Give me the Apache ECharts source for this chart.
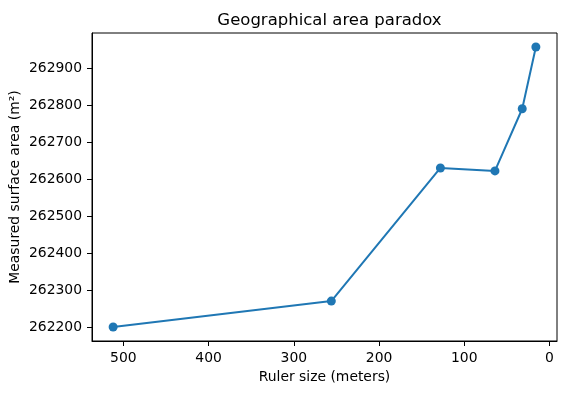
<!DOCTYPE html>
<html><head><meta charset="utf-8">
<script src="https://cdn.jsdelivr.net/npm/echarts@6/dist/echarts.min.js"></script>
<style>html,body{margin:0;padding:0;background:#fff}#c{width:567px;height:393px}</style>
</head><body><div id="c"></div>
<script>
const rulerSizes = [512, 256, 128, 64, 32, 16];
const areas = [262200, 262270, 262630, 262622, 262790, 262957];
const xTicks = [0, 100, 200, 300, 400, 500];
const yTicks = [262200, 262300, 262400, 262500, 262600, 262700, 262800, 262900];

const xMin = Math.min(...rulerSizes), xMax = Math.max(...rulerSizes);
const yMin = Math.min(...areas), yMax = Math.max(...areas);
const xPad = (xMax - xMin) * 0.05, yPad = (yMax - yMin) * 0.05;
const font = 'DejaVu Sans';
const chart = echarts.init(document.getElementById('c'), null, {renderer: 'canvas'});
chart.setOption({
  animation: false,
  title: {text: 'Geographical area paradox', left: 324.5, textAlign: 'center', top: 7,
    textStyle: {fontFamily: font, fontSize: 16.5, fontWeight: 'normal', color: '#000'}},
  grid: {left: 92, right: 10, top: 33, bottom: 52, show: true, borderColor: '#000', borderWidth: 1,
    backgroundColor: '#fff', containLabel: false, outerBoundsMode: 'none'},
  xAxis: {
    type: 'value', inverse: true, min: xMin - xPad, max: xMax + xPad,
    name: 'Ruler size (meters)', nameLocation: 'middle', nameGap: 29, nameMoveOverlap: false,
    nameTextStyle: {fontFamily: font, fontSize: 13.9, color: '#000'},
    axisLine: {show: true, onZero: false, lineStyle: {color: '#000', width: 1}},
    axisTick: {show: true, length: 5, customValues: xTicks, lineStyle: {color: '#000'}},
    axisLabel: {customValues: xTicks, margin: 10, fontFamily: font, fontSize: 13.9, color: '#000',
      formatter: v => String(v)},
    splitLine: {show: false}
  },
  yAxis: {
    type: 'value', min: yMin - yPad, max: yMax + yPad,
    name: 'Measured surface area (m²)', nameLocation: 'middle', nameGap: 70, nameMoveOverlap: false,
    nameTextStyle: {fontFamily: font, fontSize: 13.9, color: '#000'},
    axisLine: {show: true, onZero: false, lineStyle: {color: '#000', width: 1}},
    axisTick: {show: true, length: 5, customValues: yTicks, lineStyle: {color: '#000'}},
    axisLabel: {customValues: yTicks, margin: 10, fontFamily: font, fontSize: 13.9, color: '#000',
      formatter: v => String(v)},
    splitLine: {show: false}
  },
  series: [{
    type: 'line', data: rulerSizes.map((x, i) => [x, areas[i]]),
    symbol: 'circle', symbolSize: 9, showAllSymbol: true,
    itemStyle: {color: '#1f77b4'}, lineStyle: {color: '#1f77b4', width: 2}
  }]
});
</script></body></html>
